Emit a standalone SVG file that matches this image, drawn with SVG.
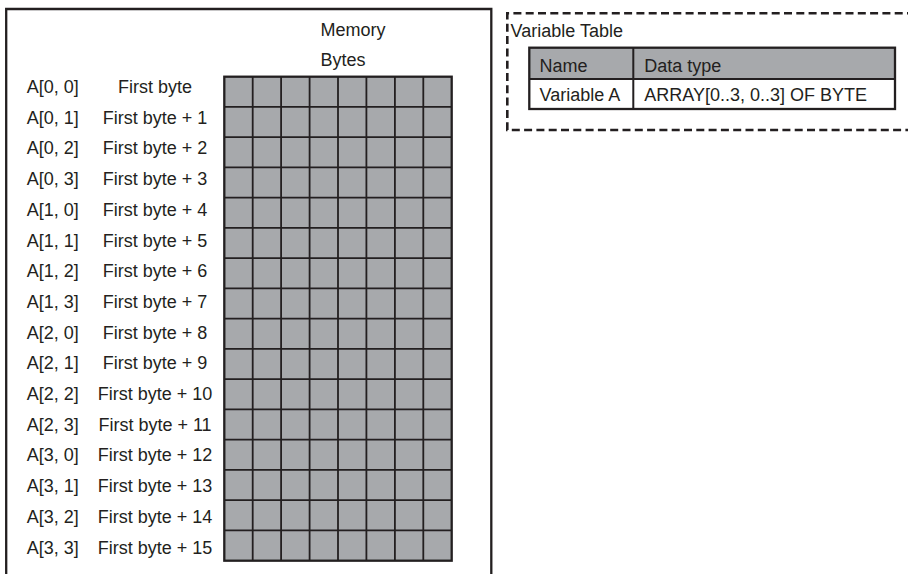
<svg xmlns="http://www.w3.org/2000/svg" width="908" height="574" viewBox="0 0 908 574">
<style>
text{font-family:"Liberation Sans",Arial,Helvetica,sans-serif;font-size:18px;fill:#231f20}
.mid{text-anchor:middle}
.ln{stroke:#231f20;fill:none}
.cell{fill:#a7a9ac}
</style>
<rect width="908" height="574" fill="#ffffff"/>
<g id="memory-box">
<path class="ln" stroke-width="2.3" d="M6.2,580 V9 H491.3 V580"/>
<text x="320.5" y="35.5">Memory</text>
<text x="320.5" y="66">Bytes</text>
</g>
<g id="memory-grid">
<rect class="cell" x="224.3" y="76.7" width="227.4" height="484"/>
<path class="ln" stroke-width="1.8" d="M252.7,76.7V560.7M281.1,76.7V560.7M309.6,76.7V560.7M338,76.7V560.7M366.4,76.7V560.7M394.9,76.7V560.7M423.3,76.7V560.7
M224.3,106.95H451.7M224.3,137.2H451.7M224.3,167.45H451.7M224.3,197.7H451.7M224.3,227.95H451.7M224.3,258.2H451.7M224.3,288.45H451.7
M224.3,318.7H451.7M224.3,348.95H451.7M224.3,379.2H451.7M224.3,409.45H451.7M224.3,439.7H451.7M224.3,469.95H451.7M224.3,500.2H451.7M224.3,530.45H451.7"/>
<rect class="ln" stroke-width="2.3" x="224.3" y="76.7" width="227.4" height="484"/>
</g>
<g id="element-labels">
<text x="26.7" y="93">A[0, 0]</text>
<text x="26.7" y="123.7">A[0, 1]</text>
<text x="26.7" y="154.4">A[0, 2]</text>
<text x="26.7" y="185.1">A[0, 3]</text>
<text x="26.7" y="215.8">A[1, 0]</text>
<text x="26.7" y="246.5">A[1, 1]</text>
<text x="26.7" y="277.2">A[1, 2]</text>
<text x="26.7" y="307.9">A[1, 3]</text>
<text x="26.7" y="338.6">A[2, 0]</text>
<text x="26.7" y="369.3">A[2, 1]</text>
<text x="26.7" y="400">A[2, 2]</text>
<text x="26.7" y="430.7">A[2, 3]</text>
<text x="26.7" y="461.4">A[3, 0]</text>
<text x="26.7" y="492.1">A[3, 1]</text>
<text x="26.7" y="522.8">A[3, 2]</text>
<text x="26.7" y="553.5">A[3, 3]</text>
</g>
<g id="byte-labels">
<text class="mid" x="155" y="93">First byte</text>
<text class="mid" x="155" y="123.7">First byte + 1</text>
<text class="mid" x="155" y="154.4">First byte + 2</text>
<text class="mid" x="155" y="185.1">First byte + 3</text>
<text class="mid" x="155" y="215.8">First byte + 4</text>
<text class="mid" x="155" y="246.5">First byte + 5</text>
<text class="mid" x="155" y="277.2">First byte + 6</text>
<text class="mid" x="155" y="307.9">First byte + 7</text>
<text class="mid" x="155" y="338.6">First byte + 8</text>
<text class="mid" x="155" y="369.3">First byte + 9</text>
<text class="mid" x="155" y="400">First byte + 10</text>
<text class="mid" x="155" y="430.7">First byte + 11</text>
<text class="mid" x="155" y="461.4">First byte + 12</text>
<text class="mid" x="155" y="492.1">First byte + 13</text>
<text class="mid" x="155" y="522.8">First byte + 14</text>
<text class="mid" x="155" y="553.5">First byte + 15</text>
</g>
<g id="variable-table">
<path class="ln" stroke-width="2.6" stroke-dasharray="8,4.3" d="M915,13.3 H507.3 V130 H915"/>
<text x="510.5" y="37.3">Variable Table</text>
<rect class="cell" x="529.3" y="47.7" width="365.7" height="31.3"/>
<rect x="529.3" y="79" width="365.7" height="30" fill="#ffffff"/>
<path class="ln" stroke-width="2" d="M529.3,79H895M633.3,47.7V109"/>
<rect class="ln" stroke-width="2.3" x="529.3" y="47.7" width="365.7" height="61.3"/>
<text x="539.5" y="71.7">Name</text>
<text x="644.3" y="71.7">Data type</text>
<text x="539.5" y="101">Variable A</text>
<text x="644.3" y="101">ARRAY[0..3, 0..3] OF BYTE</text>
</g>
</svg>
